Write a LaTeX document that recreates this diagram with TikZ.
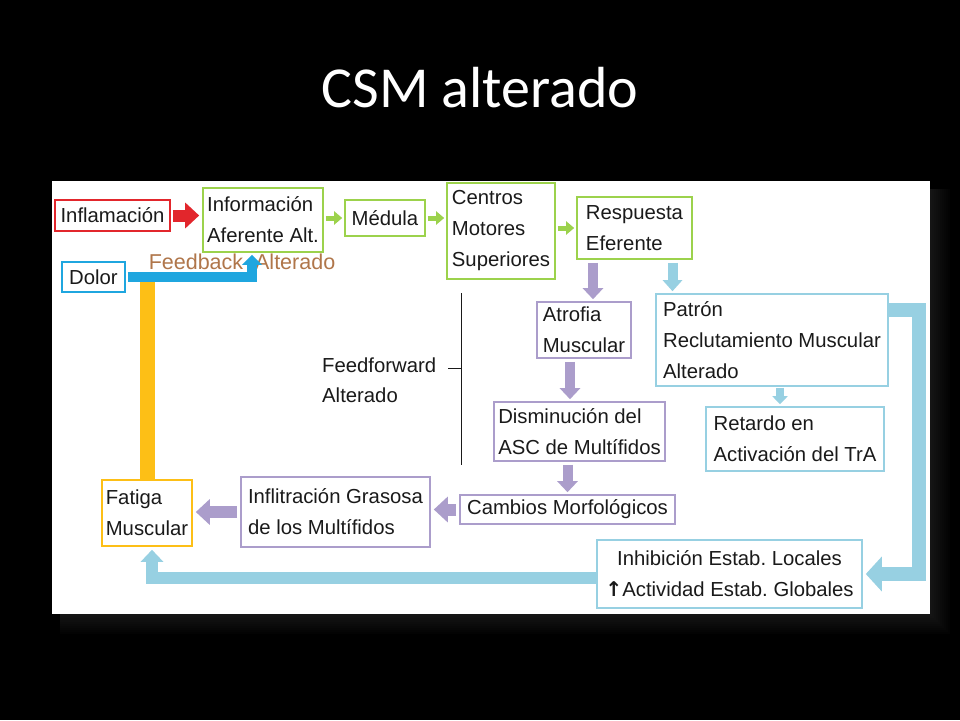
\documentclass[tikz,border=0pt]{standalone}
\usepackage{fontspec}
\setmainfont{Liberation Sans}
\newfontfamily\titlefont{Carlito}
\newfontfamily\arrowfont{DejaVu Sans}
\usepackage{xcolor}
\usetikzlibrary{arrows.meta,calc}
\definecolor{csmred}{HTML}{E2262C}
\definecolor{csmgreen}{HTML}{9CD24C}
\definecolor{csmcyan}{HTML}{97D0E2}
\definecolor{csmblue}{HTML}{1FA6DF}
\definecolor{csmpurple}{HTML}{AB9DCB}
\definecolor{csmorange}{HTML}{FDBF16}
\definecolor{csmbrown}{HTML}{B0764A}
\definecolor{csmtext}{HTML}{1A1A1A}
\frenchspacing

\begin{document}
\begin{tikzpicture}[x=1pt,y=-1pt,
	box/.style={draw,line width=1.6pt,fill=white,align=left,inner sep=0pt,text=csmtext,font=\fontsize{20.3}{31}\selectfont},
	plain/.style={align=left,inner sep=0pt,text=csmtext,font=\fontsize{20.3}{30}\selectfont},
	redarrow/.style={csmred,line width=12pt,-{Triangle[width=25pt,length=14pt]},shorten <=2pt,shorten >=3pt},
	greenarrow/.style={csmgreen,line width=5pt,-{Triangle[width=13pt,length=8pt]},shorten <=2pt,shorten >=2pt},
	purplearrow/.style={csmpurple,line width=10pt,-{Triangle[width=20pt,length=11pt]},shorten <=3pt,shorten >=2pt},
	purpleleft/.style={csmpurple,line width=12pt,-{Triangle[width=25pt,length=14pt]},shorten <=3pt,shorten >=3pt},
	cyanarrow/.style={csmcyan,line width=10pt,-{Triangle[width=19pt,length=11pt]},shorten <=3pt,shorten >=2pt},
	smallcyan/.style={csmcyan,line width=8pt,-{Triangle[width=15pt,length=8pt]},shorten <=1pt,shorten >=2pt},
	bigcyan/.style={csmcyan,line width=14pt,-{Triangle[width=34pt,length=16pt]},shorten <=0pt,shorten >=3pt},
	cyanloop/.style={csmcyan,line width=12pt,-{Triangle[width=22pt,length=12pt]},shorten <=0pt,shorten >=3pt},
	feedarrow/.style={csmblue,line width=10pt,-{Triangle[width=19pt,length=10pt]},shorten <=2pt,shorten >=2pt},
	orangebar/.style={csmorange,line width=15pt}]
	\useasboundingbox (0,0) rectangle (960,720);
	\fill[black] (0,0) rectangle (960,720);
	% titulo
	\node[text=white,font=\titlefont\fontsize{58}{62}\selectfont,anchor=base] (title) at (480,107) {CSM alterado};
	% panel blanco con sombra
	\foreach \i in {2,4,...,20}
	\fill[white,opacity=0.012] (60,189) rectangle ({930+\i},{614+\i});
	\fill[white] (52,181) rectangle (930,614);
	% cajas
	\node[box,draw=csmred,minimum width=115pt,minimum height=31pt] (infl) at (112.5,215.5) {Inflamación};
	\node[box,draw=csmgreen,minimum width=120pt,minimum height=64pt] (info) at (263,220) {Información\\Aferente Alt.};
	\node[box,draw=csmgreen,minimum width=80pt,minimum height=36pt] (medula) at (385,218) {Médula};
	\node[box,draw=csmgreen,minimum width=108pt,minimum height=96pt] (centros) at (501,231) {Centros\\Motores\\Superiores};
	\node[box,draw=csmgreen,minimum width=115pt,minimum height=62pt] (resp) at (634.5,228) {Respuesta\\Eferente};
	\node[box,draw=csmblue,minimum width=63pt,minimum height=30pt] (dolor) at (93.5,277) {Dolor};
	\node[box,draw=csmpurple,minimum width=94pt,minimum height=56pt] (atrofia) at (584,330) {Atrofia\\Muscular};
	\node[box,draw=csmcyan,minimum width=232pt,minimum height=92pt] (patron) at (772,340) {Patrón\\Reclutamiento Muscular\\Alterado};
	\node[box,draw=csmpurple,minimum width=171pt,minimum height=59pt] (dism) at (579.5,431.5) {Disminución del\\ASC de Multífidos};
	\node[box,draw=csmcyan,minimum width=178pt,minimum height=64pt] (retardo) at (795,439) {Retardo en\\Activación del TrA};
	\node[box,draw=csmpurple,minimum width=215pt,minimum height=29pt] (cambios) at (567.5,509.5) {Cambios Morfológicos};
	\node[box,draw=csmpurple,minimum width=189pt,minimum height=70pt] (inflit) at (335.5,512) {Inflitración Grasosa\\de los Multífidos};
	\node[box,draw=csmorange,minimum width=90pt,minimum height=66pt] (fatiga) at (147,513) {Fatiga\\Muscular};
	\node[box,draw=csmcyan,align=center,minimum width=265pt,minimum height=68pt] (inhib) at (729.5,574) {Inhibición Estab. Locales\\{\arrowfont\bfseries ↑}Actividad Estab. Globales};
	% feedforward
	\node[plain,anchor=west] (ffw) at (322,380) {Feedforward\\Alterado};
	\coordinate (fftop) at (461,293);
	\coordinate (ffbot) at (461,465);
	\coordinate (fftick) at (448,368);
	\draw[line width=1pt,csmtext] (fftop) -- (ffbot);
	\draw[line width=1pt,csmtext] (fftick) -- (fftick -| fftop);
	% feedback
	\node[plain,text=csmbrown,font=\fontsize{21.5}{30}\selectfont] (fb) at (242,262) {Feedback\hspace{12pt}Alterado};
	\draw[orangebar] (fatiga.north) -- (fatiga.north |- dolor.east);
	\draw[feedarrow] (dolor.east) -| ([xshift=-11pt]info.south);
	% flechas
	\draw[redarrow] (infl.east) -- (infl.east -| info.west);
	\draw[greenarrow] (info.east |- medula.west) -- (medula.west);
	\draw[greenarrow] (medula.east) -- (medula.east -| centros.west);
	\draw[greenarrow] (centros.east |- resp.west) -- (resp.west);
	\draw[purplearrow] ([xshift=9pt]atrofia.north |- resp.south) -- ([xshift=9pt]atrofia.north);
	\draw[cyanarrow] ([xshift=38pt]resp.south) -- ([xshift=38pt]resp.south |- patron.north);
	\draw[purplearrow] ([xshift=-14pt]atrofia.south) -- ([xshift=-14pt]atrofia.south |- dism.north);
	\draw[purplearrow] (dism.south -| cambios.north) -- (cambios.north);
	\draw[purpleleft] (cambios.west) -- (cambios.west -| inflit.east);
	\draw[purpleleft] (inflit.west) -- (inflit.west -| fatiga.east);
	\draw[smallcyan] ([xshift=8pt]patron.south) -- ([xshift=8pt]patron.south |- retardo.north);
	\draw[bigcyan] ([yshift=30pt]patron.east) -- ++(30,0) |- (inhib.east);
	\draw[cyanloop] ([yshift=-4pt]inhib.west) -| ([xshift=5pt]fatiga.south);
\end{tikzpicture}
\end{document}
